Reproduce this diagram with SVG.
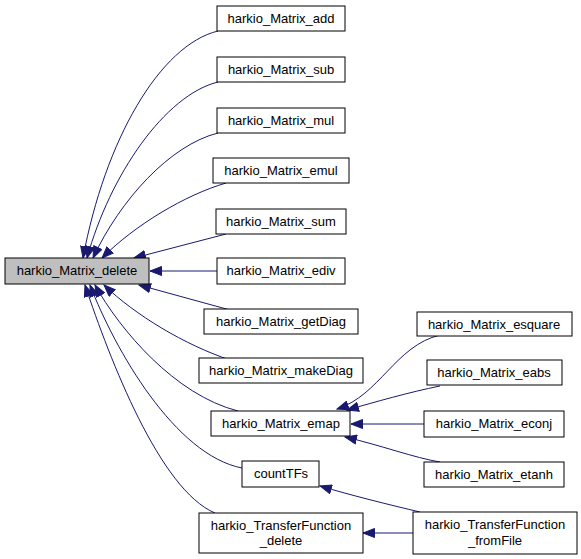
<svg xmlns="http://www.w3.org/2000/svg" width="581" height="559" viewBox="0 0 581 559">
<style>
.n rect{fill:#fff;stroke:#000;stroke-width:1}
.n text{font-family:"Liberation Sans",Arial,sans-serif;font-size:13px;fill:#000;text-anchor:middle}
#main rect{fill:#bfbfbf}
.e path{fill:none;stroke:#191970;stroke-width:1}
</style>
<defs>
<marker id="a" markerUnits="userSpaceOnUse" markerWidth="13" markerHeight="10" refX="12" refY="5" orient="auto">
<path d="M0.5,0.5 L12,5 L0.5,9.5 z" fill="#191970" stroke="#191970"/>
</marker>
</defs>
<rect width="581" height="559" fill="#fff"/>
<g class="e">
<path d="M218,31 C160,45 105,140 83,258" marker-end="url(#a)"/>
<path d="M218,82 C165,95 110,175 87,258" marker-end="url(#a)"/>
<path d="M218,133 C170,145 120,200 93,258" marker-end="url(#a)"/>
<path d="M226,183 C185,195 135,225 102,258" marker-end="url(#a)"/>
<path d="M226,234 L134,258" marker-end="url(#a)"/>
<path d="M217,271 L150,271" marker-end="url(#a)"/>
<path d="M230,310 L139,285" marker-end="url(#a)"/>
<path d="M230,360 C185,345 135,315 104,285" marker-end="url(#a)"/>
<path d="M238,411 C175,395 120,330 95,285" marker-end="url(#a)"/>
<path d="M242,468 C175,455 115,350 90,285" marker-end="url(#a)"/>
<path d="M215,513 C160,490 110,360 85,285" marker-end="url(#a)"/>
<path d="M440,335 C395,346 380,395 337,409" marker-end="url(#a)"/>
<path d="M440,386 C410,392 375,402 347,410" marker-end="url(#a)"/>
<path d="M424,424 L351,424" marker-end="url(#a)"/>
<path d="M440,462 C415,458 380,445 345,437" marker-end="url(#a)"/>
<path d="M420,512 C390,505 350,495 320,486" marker-end="url(#a)"/>
<path d="M413,533 L363,533" marker-end="url(#a)"/>
</g>
<g id="main" class="n"><rect x="5" y="258" width="144" height="26"/><text x="77" y="275">harkio_Matrix_delete</text></g>
<g id="add" class="n"><rect x="217" y="6" width="128" height="25"/><text x="281" y="23">harkio_Matrix_add</text></g>
<g id="sub" class="n"><rect x="217" y="57" width="128" height="25"/><text x="281" y="74">harkio_Matrix_sub</text></g>
<g id="mul" class="n"><rect x="217" y="108" width="128" height="25"/><text x="281" y="125">harkio_Matrix_mul</text></g>
<g id="emul" class="n"><rect x="213" y="158" width="136" height="25"/><text x="281" y="175">harkio_Matrix_emul</text></g>
<g id="sum" class="n"><rect x="216" y="209" width="130" height="25"/><text x="281" y="226">harkio_Matrix_sum</text></g>
<g id="ediv" class="n"><rect x="217" y="258" width="128" height="26"/><text x="281" y="275">harkio_Matrix_ediv</text></g>
<g id="getDiag" class="n"><rect x="204" y="309" width="154" height="25"/><text x="281" y="326">harkio_Matrix_getDiag</text></g>
<g id="makeDiag" class="n"><rect x="199" y="358" width="164" height="25"/><text x="281" y="375">harkio_Matrix_makeDiag</text></g>
<g id="emap" class="n"><rect x="211" y="411" width="139" height="25"/><text x="281" y="428">harkio_Matrix_emap</text></g>
<g id="countTFs" class="n"><rect x="242" y="461" width="77" height="26"/><text x="281" y="478">countTFs</text></g>
<g id="tfdelete" class="n"><rect x="199" y="513" width="164" height="40"/><text x="281" y="530">harkio_TransferFunction</text><text x="281" y="545">_delete</text></g>
<g id="esquare" class="n"><rect x="417" y="312" width="155" height="24"/><text x="494" y="329">harkio_Matrix_esquare</text></g>
<g id="eabs" class="n"><rect x="427" y="360" width="135" height="25"/><text x="494" y="377">harkio_Matrix_eabs</text></g>
<g id="econj" class="n"><rect x="424" y="411" width="140" height="26"/><text x="494" y="428">harkio_Matrix_econj</text></g>
<g id="etanh" class="n"><rect x="424" y="462" width="140" height="25"/><text x="494" y="479">harkio_Matrix_etanh</text></g>
<g id="fromFile" class="n"><rect x="413" y="512" width="164" height="42"/><text x="495" y="529">harkio_TransferFunction</text><text x="495" y="545">_fromFile</text></g>
</svg>
